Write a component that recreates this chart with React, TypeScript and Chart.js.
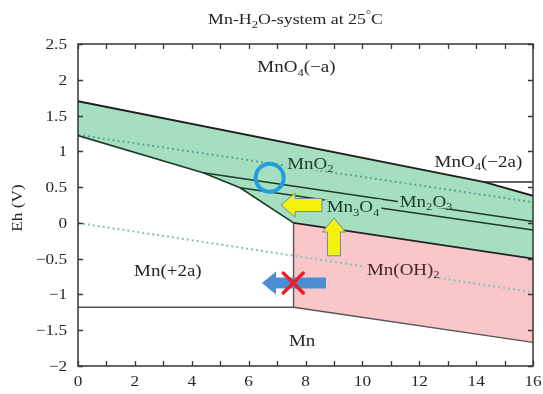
import React, { useEffect, useRef } from "react";
import { Chart, registerables } from "chart.js";

Chart.register(...registerables);

const FONT = '"Liberation Serif", "Times New Roman", serif';
const STRETCH = 1.15;
const GREEN = "#a5dfc0";
const PINK = "#f9c6c9";

// axis ticks
const phTickValues = [0, 2, 4, 6, 8, 10, 12, 14, 16];
const phMinorTicks = [0, 1, 2, 3, 4, 5, 6, 7, 8, 9, 10, 11, 12, 13, 14, 15, 16];
const ehTickValues = [2.5, 2, 1.5, 1, 0.5, 0, -0.5, -1, -1.5, -2];

// stability fields (pH, Eh)
const oxideFieldPH = [0, 14.3, 16, 16, 7.58, 5.7, 4.4, 0];
const oxideFieldEh = [1.7, 0.57, 0.38, -0.5, 0.0, 0.49, 0.7, 1.22];
const hydroxideFieldPH = [7.58, 16, 16, 7.58];
const hydroxideFieldEh = [0.0, -0.5, -1.67, -1.18];

// boundary lines
const permanganatePH = [0, 14.3, 16];
const permanganateEh = [1.7, 0.57, 0.38];
const manganatePH = [14.3, 16];
const manganateEh = [0.57, 0.57];
const mn2BoundaryPH = [0, 4.4, 5.7, 7.58];
const mn2BoundaryEh = [1.22, 0.7, 0.49, 0.0];
const mno2Mn2o3PH = [4.4, 16];
const mno2Mn2o3Eh = [0.7, 0.02];
const mn2o3Mn3o4PH = [5.7, 16];
const mn2o3Mn3o4Eh = [0.49, -0.1];
const mn3o4MnOH2PH = [7.58, 16];
const mn3o4MnOH2Eh = [0.0, -0.5];
const mnMetalPH = [0, 7.58, 16];
const mnMetalEh = [-1.18, -1.18, -1.67];
const mnOH2EdgePH = [7.58, 7.58];
const mnOH2EdgeEh = [0.0, -1.18];
// water stability lines
const o2WaterPH = [0, 16];
const o2WaterEh = [1.23, 0.29];
const h2WaterPH = [0, 16];
const h2WaterEh = [0.0, -0.97];

// region labels ("_" = subscript, "^" = superscript)
const regionLabels = [
  { parts: ["MnO", "_4", "(\u2212a)"], pH: 7.68, eh: 2.18, color: "#262626", bg: null },
  { parts: ["MnO", "_2"], pH: 8.17, eh: 0.835, color: "#213f2f", bg: GREEN },
  { parts: ["MnO", "_4", "(\u22122a)"], pH: 14.08, eh: 0.86, color: "#262626", bg: null },
  { parts: ["Mn", "_2", "O", "_3"], pH: 12.24, eh: 0.3, color: "#1c3a2b", bg: GREEN },
  { parts: ["Mn", "_3", "O", "_4"], pH: 9.67, eh: 0.225, color: "#1c3a2b", bg: GREEN },
  { parts: ["Mn(+2a)"], pH: 3.16, eh: -0.66, color: "#262626", bg: null },
  { parts: ["Mn(OH)", "_2"], pH: 11.44, eh: -0.65, color: "#452626", bg: PINK },
  { parts: ["Mn"], pH: 7.88, eh: -1.65, color: "#262626", bg: null },
];

const titleParts = ["Mn-H", "_2", "O-system at 25", "^\u00b0", "C"];

// annotation marks
const circleMark = { pH: 6.74, eh: 0.63 };
const yellowLeftArrow = { tip: { pH: 7.14, eh: 0.25 }, tail: { pH: 8.58, eh: 0.25 } };
const yellowUpArrow = { tip: { pH: 9.0, eh: 0.068 }, tail: { pH: 9.0, eh: -0.46 } };
const blueLeftArrow = { tip: { pH: 6.47, eh: -0.84 }, tail: { pH: 8.72, eh: -0.84 } };
const crossMark = { pH: 7.57, eh: -0.84 };

const pts = (xs: number[], ys: number[]) => xs.map((x, i) => ({ x, y: ys[i] }));

function textWidth(ctx: CanvasRenderingContext2D, parts: string[], size: number) {
  let w = 0;
  for (const p of parts) {
    const small = p[0] === "_" || p[0] === "^";
    ctx.font = `${small ? Math.round(size * 0.68) : size}px ${FONT}`;
    w += ctx.measureText(small ? p.slice(1) : p).width;
  }
  return w * STRETCH;
}

function drawRich(
  ctx: CanvasRenderingContext2D,
  parts: string[],
  x: number,
  cy: number,
  size: number,
  color: string,
  align: "center" | "right" | "left" = "center",
  bg: string | null = null
) {
  const w = textWidth(ctx, parts, size);
  const start = align === "center" ? x - w / 2 : align === "right" ? x - w : x;
  const baseline = cy + size * 0.33;
  ctx.save();
  if (bg) {
    ctx.fillStyle = bg;
    ctx.fillRect(start - 2, cy - size * 0.45, w + 4, size * 0.88);
  }
  ctx.fillStyle = color;
  ctx.textBaseline = "alphabetic";
  ctx.textAlign = "left";
  ctx.translate(start, baseline);
  ctx.scale(STRETCH, 1);
  let cx = 0;
  for (const p of parts) {
    const sub = p[0] === "_";
    const sup = p[0] === "^";
    const t = sub || sup ? p.slice(1) : p;
    ctx.font = `${sub || sup ? Math.round(size * 0.68) : size}px ${FONT}`;
    const dy = sub ? size * 0.22 : sup ? -size * 0.42 : 0;
    ctx.fillText(t, cx, dy);
    cx += ctx.measureText(t).width;
  }
  ctx.restore();
}

function drawArrow(
  ctx: CanvasRenderingContext2D,
  tx: number, ty: number, bx: number, by: number,
  headLen: number, headHalf: number, shaftHalf: number,
  fill: string, stroke: string | null
) {
  const len = Math.hypot(tx - bx, ty - by);
  const ux = (tx - bx) / len, uy = (ty - by) / len;
  const nx = -uy, ny = ux;
  const hx = tx - ux * headLen, hy = ty - uy * headLen;
  ctx.beginPath();
  ctx.moveTo(bx + nx * shaftHalf, by + ny * shaftHalf);
  ctx.lineTo(hx + nx * shaftHalf, hy + ny * shaftHalf);
  ctx.lineTo(hx + nx * headHalf, hy + ny * headHalf);
  ctx.lineTo(tx, ty);
  ctx.lineTo(hx - nx * headHalf, hy - ny * headHalf);
  ctx.lineTo(hx - nx * shaftHalf, hy - ny * shaftHalf);
  ctx.lineTo(bx - nx * shaftHalf, by - ny * shaftHalf);
  ctx.closePath();
  ctx.fillStyle = fill;
  ctx.fill();
  if (stroke) {
    ctx.strokeStyle = stroke;
    ctx.lineWidth = 1;
    ctx.stroke();
  }
}

const overlayPlugin = {
  id: "overlay",
  afterDatasetsDraw(chart: any) {
    const { ctx, chartArea: a, scales } = chart;
    const xs = scales.x, ys = scales.y;
    const X = (v: number) => xs.getPixelForValue(v);
    const Y = (v: number) => ys.getPixelForValue(v);
    ctx.save();

    // region labels
    for (const l of regionLabels) {
      drawRich(ctx, l.parts, X(l.pH), Y(l.eh), 16.5, l.color, "center", l.bg);
    }

    // frame
    ctx.strokeStyle = "#363636";
    ctx.lineWidth = 1.5;
    ctx.strokeRect(a.left, a.top, a.right - a.left, a.bottom - a.top);

    // inward ticks
    ctx.lineWidth = 1.3;
    ctx.beginPath();
    for (const v of phMinorTicks) {
      const px = Math.round(X(v)) + 0.5;
      ctx.moveTo(px, a.bottom);
      ctx.lineTo(px, a.bottom - 5);
      ctx.moveTo(px, a.top);
      ctx.lineTo(px, a.top + 5);
    }
    for (const v of ehTickValues) {
      const py = Math.round(Y(v)) + 0.5;
      ctx.moveTo(a.left, py);
      ctx.lineTo(a.left + 5, py);
      ctx.moveTo(a.right, py);
      ctx.lineTo(a.right - 5, py);
    }
    ctx.stroke();

    // tick labels
    for (const v of phTickValues) {
      drawRich(ctx, [String(v)], X(v), a.bottom + 15, 15, "#262626");
    }
    for (const v of ehTickValues) {
      const s = v < 0 ? "\u2212" + String(-v) : String(v);
      drawRich(ctx, [s], a.left - 11, Y(v), 15, "#262626", "right");
    }

    // y axis title
    ctx.save();
    ctx.translate(17, (a.top + a.bottom) / 2 + 3);
    ctx.rotate(-Math.PI / 2);
    drawRich(ctx, ["Eh (V)"], 0, 0, 15, "#262626");
    ctx.restore();

    // chart title
    drawRich(ctx, titleParts, (a.left + a.right) / 2 - 10, 19, 15.5, "#262626");

    // annotations
    ctx.beginPath();
    ctx.arc(X(circleMark.pH), Y(circleMark.eh), 14, 0, Math.PI * 2);
    ctx.strokeStyle = "#1e9fe0";
    ctx.lineWidth = 4;
    ctx.stroke();

    drawArrow(ctx, X(yellowLeftArrow.tip.pH), Y(yellowLeftArrow.tip.eh),
      X(yellowLeftArrow.tail.pH), Y(yellowLeftArrow.tail.eh), 14, 12, 6.5, "#f4f20c", "#6a8cb0");
    drawArrow(ctx, X(yellowUpArrow.tip.pH), Y(yellowUpArrow.tip.eh),
      X(yellowUpArrow.tail.pH), Y(yellowUpArrow.tail.eh), 14, 11.5, 6.5, "#f4f20c", "#6a8cb0");
    drawArrow(ctx, X(blueLeftArrow.tip.pH), Y(blueLeftArrow.tip.eh),
      X(blueLeftArrow.tail.pH), Y(blueLeftArrow.tail.eh), 14, 11.5, 5.5, "#4a8fd4", null);

    const cxp = X(crossMark.pH), cyp = Y(crossMark.eh);
    ctx.strokeStyle = "#ea1f28";
    ctx.lineWidth = 3.5;
    ctx.lineCap = "round";
    ctx.beginPath();
    ctx.moveTo(cxp - 10, cyp - 10);
    ctx.lineTo(cxp + 10, cyp + 10);
    ctx.moveTo(cxp + 10, cyp - 10);
    ctx.lineTo(cxp - 10, cyp + 10);
    ctx.stroke();

    ctx.restore();
  },
};

export default function App() {
  const ref = useRef<HTMLCanvasElement | null>(null);

  useEffect(() => {
    if (!ref.current) return;
    const line = (xs: number[], ys: number[], color: string, width: number, order: number, dash?: number[]) => ({
      data: pts(xs, ys),
      borderColor: color,
      borderWidth: width,
      borderDash: dash || [],
      fill: false,
      pointRadius: 0,
      order,
    });
    const chart = new Chart(ref.current, {
      type: "line",
      data: {
        datasets: [
          line(permanganatePH, permanganateEh, "#1e1e1e", 2, 1),
          line(manganatePH, manganateEh, "#2a2a2a", 1.5, 1),
          line(mn2BoundaryPH, mn2BoundaryEh, "#1d3a2a", 1.6, 1),
          line(mno2Mn2o3PH, mno2Mn2o3Eh, "#1d3a2a", 1.6, 1),
          line(mn2o3Mn3o4PH, mn2o3Mn3o4Eh, "#1d3a2a", 1.6, 1),
          line(mn3o4MnOH2PH, mn3o4MnOH2Eh, "#222222", 1.6, 1),
          line(mnMetalPH, mnMetalEh, "#555555", 1.4, 1),
          line(mnOH2EdgePH, mnOH2EdgeEh, "#555555", 1.4, 1),
          line(o2WaterPH, o2WaterEh, "#5aa597", 2, 2, [2, 3]),
          line(h2WaterPH, h2WaterEh, "#86c2ba", 2, 2, [2, 3]),
          {
            data: pts(hydroxideFieldPH, hydroxideFieldEh),
            borderWidth: 0,
            borderColor: "rgba(0,0,0,0)",
            backgroundColor: PINK,
            fill: "shape",
            pointRadius: 0,
            order: 20,
          },
          {
            data: pts(oxideFieldPH, oxideFieldEh),
            borderWidth: 0,
            borderColor: "rgba(0,0,0,0)",
            backgroundColor: GREEN,
            fill: "shape",
            pointRadius: 0,
            order: 20,
          },
        ],
      },
      options: {
        animation: false,
        responsive: false,
        maintainAspectRatio: false,
        layout: { padding: { top: 44, right: 10, left: 0, bottom: 0 } },
        plugins: {
          legend: { display: false },
          tooltip: { enabled: false },
          title: { display: false },
        },
        elements: { line: { tension: 0 }, point: { radius: 0 } },
        scales: {
          x: {
            type: "linear",
            min: 0,
            max: 16,
            ticks: { display: false },
            grid: { display: false },
            border: { display: false },
            afterFit(s: any) {
              s.height = 28;
            },
          },
          y: {
            type: "linear",
            min: -2,
            max: 2.5,
            ticks: { display: false },
            grid: { display: false },
            border: { display: false },
            afterFit(s: any) {
              s.width = 78;
            },
          },
        },
      },
      plugins: [overlayPlugin],
    } as any);
    return () => chart.destroy();
  }, []);

  return (
    <div style={{ position: "fixed", left: 0, top: 0, width: 543, height: 394, background: "#fff" }}>
      <canvas ref={ref} width={543} height={394} style={{ display: "block", width: 543, height: 394 }} />
    </div>
  );
}
